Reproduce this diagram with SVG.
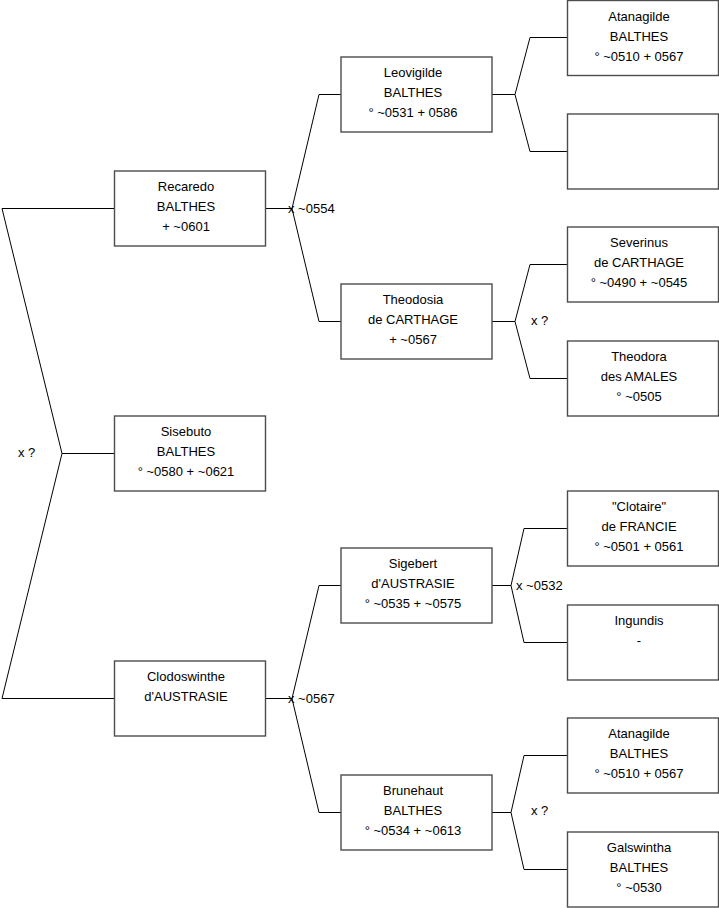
<svg xmlns="http://www.w3.org/2000/svg" width="719" height="908" viewBox="0 0 719 908">
<style>
.box rect{fill:#ffffff;stroke:#4d4d4d;stroke-width:1.4}
.box text{font-family:"Liberation Sans",Arial,sans-serif;font-size:13px;fill:#000;text-anchor:middle}
.lbl{font-family:"Liberation Sans",Arial,sans-serif;font-size:13px;fill:#000}
#connectors path{fill:none;stroke:#000;stroke-width:1}
</style>
<rect width="719" height="908" fill="#ffffff"/>
<g id="connectors">
<path d="M2,208.5 H114 M2,698.5 H114 M2,208.5 L62,453.5 L2,698.5 M62,453.5 H114"/>
<path d="M265,208.5 H292 M292,208.5 L319,94.5 H341 M292,208.5 L319,321.5 H341"/>
<path d="M265,698.5 H292 M292,698.5 L319,585.5 H341 M292,698.5 L319,812.5 H341"/>
<path d="M492,94.5 H515 M515,94.5 L530,37.5 H567 M515,94.5 L530,151.5 H567"/>
<path d="M492,321.5 H515 M515,321.5 L530,264.5 H567 M515,321.5 L530,378.5 H567"/>
<path d="M492,585.5 H511 M511,585.5 L524,528.5 H567 M511,585.5 L524,642.5 H567"/>
<path d="M492,812.5 H511 M511,812.5 L524,755.5 H567 M511,812.5 L524,869.5 H567"/>
<text class="lbl" x="18" y="457">x ?</text>
<text class="lbl" x="288" y="212.5">x ~0554</text>
<text class="lbl" x="288" y="702.5">x ~0567</text>
<text class="lbl" x="516" y="590">x ~0532</text>
<text class="lbl" x="531" y="325">x ?</text>
<text class="lbl" x="531" y="815">x ?</text>
</g>
<g id="recaredo" class="box"><rect x="114.5" y="171" width="151" height="75"/><text x="186" y="191">Recaredo</text><text x="186" y="211">BALTHES</text><text x="186" y="231">+ ~0601</text></g>
<g id="sisebuto" class="box"><rect x="114.5" y="416" width="151" height="75"/><text x="186" y="436">Sisebuto</text><text x="186" y="456">BALTHES</text><text x="186" y="476">° ~0580 + ~0621</text></g>
<g id="clodoswinthe" class="box"><rect x="114.5" y="661" width="151" height="75"/><text x="186" y="681">Clodoswinthe</text><text x="186" y="701">d'AUSTRASIE</text></g>
<g id="leovigilde" class="box"><rect x="341" y="57" width="151" height="75"/><text x="413" y="77">Leovigilde</text><text x="413" y="97">BALTHES</text><text x="413" y="117">° ~0531 + 0586</text></g>
<g id="theodosia" class="box"><rect x="341" y="284" width="151" height="75"/><text x="413" y="304">Theodosia</text><text x="413" y="324">de CARTHAGE</text><text x="413" y="344">+ ~0567</text></g>
<g id="sigebert" class="box"><rect x="341" y="548" width="151" height="75"/><text x="413" y="568">Sigebert</text><text x="413" y="588">d'AUSTRASIE</text><text x="413" y="608">° ~0535 + ~0575</text></g>
<g id="brunehaut" class="box"><rect x="341" y="775" width="151" height="75"/><text x="413" y="795">Brunehaut</text><text x="413" y="815">BALTHES</text><text x="413" y="835">° ~0534 + ~0613</text></g>
<g id="atanagilde1" class="box"><rect x="567.5" y="0.5" width="151" height="75"/><text x="639" y="20.5">Atanagilde</text><text x="639" y="40.5">BALTHES</text><text x="639" y="60.5">° ~0510 + 0567</text></g>
<g id="empty" class="box"><rect x="567.5" y="114" width="151" height="75"/></g>
<g id="severinus" class="box"><rect x="567.5" y="227" width="151" height="75"/><text x="639" y="247">Severinus</text><text x="639" y="267">de CARTHAGE</text><text x="639" y="287">° ~0490 + ~0545</text></g>
<g id="theodora" class="box"><rect x="567.5" y="341" width="151" height="75"/><text x="639" y="361">Theodora</text><text x="639" y="381">des AMALES</text><text x="639" y="401">° ~0505</text></g>
<g id="clotaire" class="box"><rect x="567.5" y="491" width="151" height="75"/><text x="639" y="511">"Clotaire"</text><text x="639" y="531">de FRANCIE</text><text x="639" y="551">° ~0501 + 0561</text></g>
<g id="ingundis" class="box"><rect x="567.5" y="605" width="151" height="75"/><text x="639" y="625">Ingundis</text><text x="639" y="645">-</text></g>
<g id="atanagilde2" class="box"><rect x="567.5" y="718" width="151" height="75"/><text x="639" y="738">Atanagilde</text><text x="639" y="758">BALTHES</text><text x="639" y="778">° ~0510 + 0567</text></g>
<g id="galswintha" class="box"><rect x="567.5" y="832" width="151" height="75"/><text x="639" y="852">Galswintha</text><text x="639" y="872">BALTHES</text><text x="639" y="892">° ~0530</text></g>
</svg>
